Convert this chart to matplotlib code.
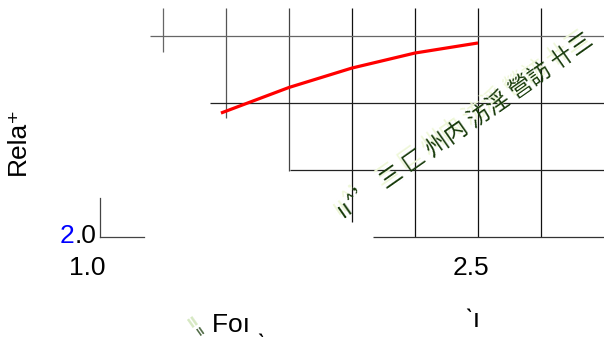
import matplotlib.pyplot as plt

# red curve
curve_x = [1.48, 1.75, 2.0, 2.25, 2.5]
curve_y = [2.925, 3.116, 3.261, 3.373, 3.448]

# grid pieces (staircase look of the reference)
vgrid_x = [1.25, 1.5, 1.75, 2.0, 2.25, 2.5, 2.75]
vgrid_top = [3.71, 3.71, 3.71, 3.71, 3.71, 3.71, 3.71]
vgrid_bottom = [3.38, 2.89, 2.49, 2.11, 2.0, 2.0, 2.0]
vgrid_col = ['#666666', '#555555', '#444444', '#111111', '#111111', '#111111', '#111111']

hgrid_y = [3.5, 3.0, 2.5, 2.0]
hgrid_left = [1.2, 1.437, 1.754, 2.083]
hgrid_col = ['#666666', '#222222', '#222222', '#333333']

tick_labels = ['1.0', '2.5']
tick_pos = [0.948, 2.472]

watermark = 'ıı\u02c4\u2019 三 匚 州内 汸淫 營訪 卄三'

plt.rcParams['font.family'] = ['Liberation Sans', 'DejaVu Sans']

fig = plt.figure(figsize=(6.04, 3.38), dpi=100)
ax = fig.add_axes([0, 0, 1, 1])
ax.set_xlim(1.0 - 100 / 252, 1.0 + 504 / 252)
ax.set_ylim(2.0 - 101 / 134, 2.0 + 237 / 134)
ax.axis('off')

for x, t, b, c in zip(vgrid_x, vgrid_top, vgrid_bottom, vgrid_col):
    ax.plot([x, x], [b, t], color=c, lw=0.9, solid_capstyle='butt')
for y, l, c in zip(hgrid_y, hgrid_left, hgrid_col):
    ax.plot([l, 3.0], [y, y], color=c, lw=0.9, solid_capstyle='butt')

# little axis corner near the 2.0 label
ax.plot([1.0, 1.0], [2.0, 2.291], color='#444444', lw=0.9)
ax.plot([1.0, 1.175], [2.0, 2.0], color='#444444', lw=0.9)

ax.plot(curve_x, curve_y, color='red', lw=2.3, solid_capstyle='butt')

# garbled diagonal watermark
cjk = ['Noto Sans CJK SC', 'DejaVu Sans']
ax.text(2.43, 2.85, watermark, rotation=35, family=cjk, fontsize=16.5,
        color='#eef7d8', ha='center', va='center')
ax.text(2.45, 2.83, watermark, rotation=35, family=cjk, fontsize=16.5,
        color='#173a0a', ha='center', va='center')
ax.text(1.37, 1.37, 'ıı', rotation=35, fontsize=13, color='#d6e8c2',
        ha='center', va='center', fontweight='bold')
ax.text(1.40, 1.30, 'ıı', rotation=35, fontsize=10, color='#1e4010',
        ha='center', va='center')

fs = 19
for lab, x in zip(tick_labels, tick_pos):
    ax.text(x, 1.769, lab, fontsize=fs, ha='center', va='center')
ax.text(0.841, 2.007, '2', fontsize=fs, ha='left', va='center', color='blue')
ax.text(0.988, 2.007, '.0', fontsize=fs, ha='right', va='center')

ax.text(0.675, 2.463, 'Rela\u207a', fontsize=fs, rotation=90, ha='center', va='bottom')
ax.text(1.444, 1.291, 'Foı \u02ce', fontsize=fs, ha='left', va='baseline')
ax.text(2.444, 1.33, '\u02cbı', fontsize=fs, ha='left', va='baseline')

fig.savefig('out.png', dpi=100)
